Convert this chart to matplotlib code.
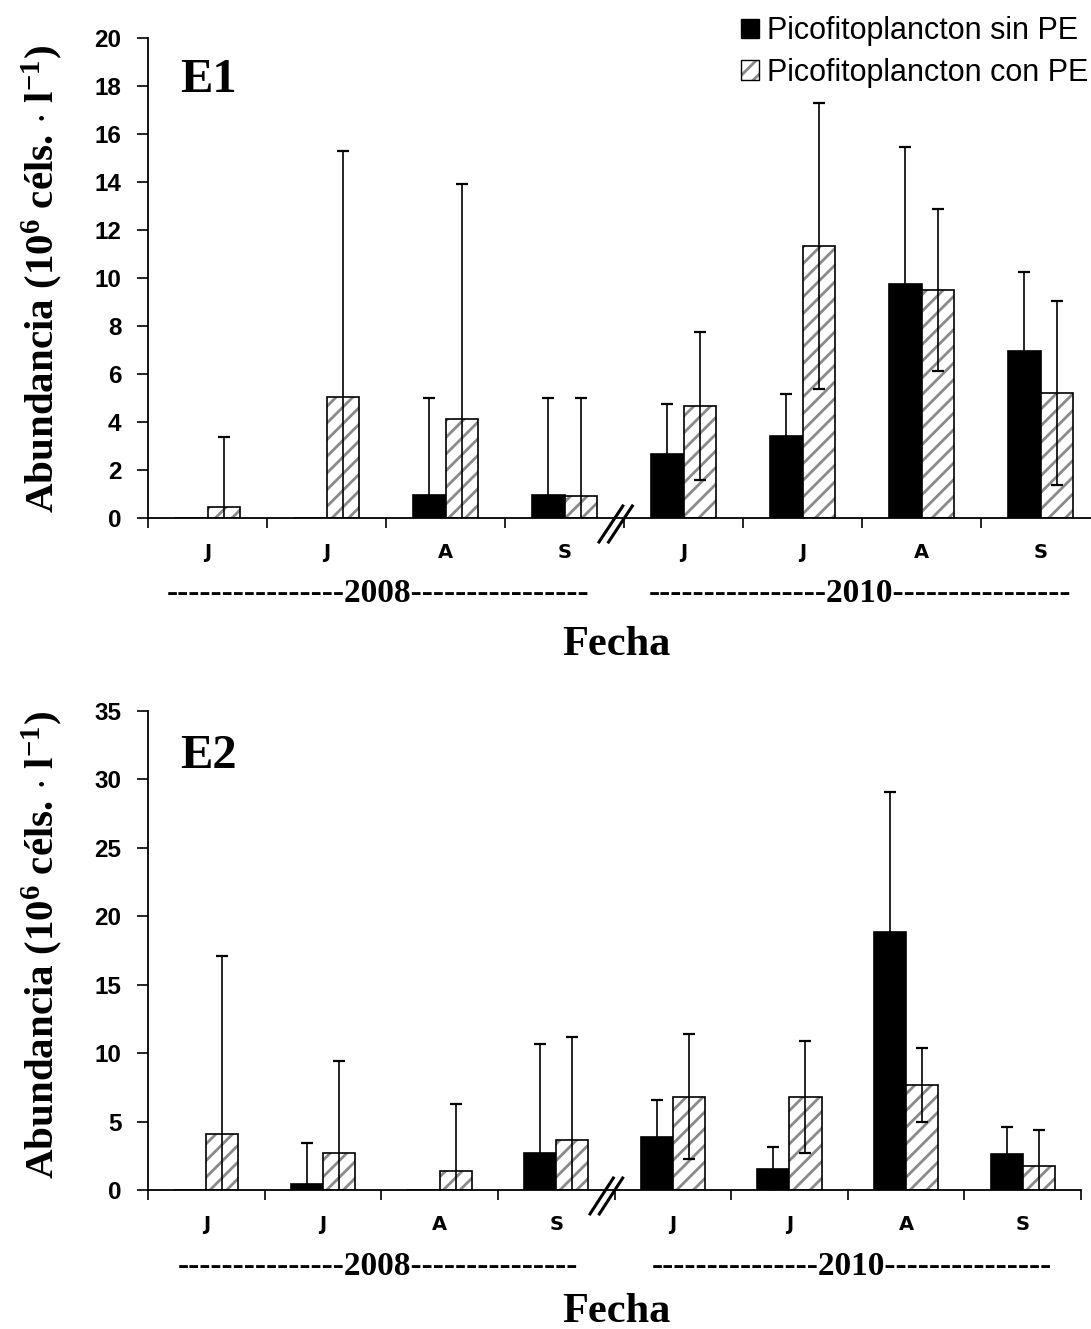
import numpy as np
import matplotlib
matplotlib.use('Agg')
import matplotlib.pyplot as plt
from matplotlib.patches import Patch
from matplotlib.legend_handler import HandlerTuple
from matplotlib.transforms import blended_transform_factory

# ---------------- data ----------------
months = ['J', 'J', 'A', 'S', 'J', 'J', 'A', 'S']
years = ['2008', '2010']
series_labels = ['Picofitoplancton sin PE', 'Picofitoplancton con PE']
panel_names = ['E1', 'E2']

e1_sin = [np.nan, np.nan, 0.95, 0.95, 2.65, 3.40, 9.75, 6.95]
e1_sin_err = [np.nan, np.nan, 4.05, 4.05, 2.10, 1.75, 5.70, 3.30]
e1_con = [0.47, 5.05, 4.12, 0.93, 4.67, 11.33, 9.50, 5.21]
e1_con_err = [2.90, 10.25, 9.80, 4.07, 3.10, 5.95, 3.37, 3.85]

e2_sin = [np.nan, 0.44, np.nan, 2.73, 3.85, 1.51, 18.85, 2.61]
e2_sin_err = [np.nan, 2.97, np.nan, 7.93, 2.72, 1.63, 10.22, 2.02]
e2_con = [4.09, 2.73, 1.36, 3.68, 6.82, 6.82, 7.65, 1.78]
e2_con_err = [13.0, 6.67, 4.90, 7.52, 4.55, 4.08, 2.70, 2.60]

e1_ymax, e1_ystep = 20, 2
e2_ymax, e2_ystep = 35, 5

# ---------------- style ----------------
plt.rcParams['mathtext.fontset'] = 'custom'
plt.rcParams['mathtext.rm'] = 'Liberation Serif:bold'
plt.rcParams['mathtext.bf'] = 'Liberation Serif:bold'
plt.rcParams['mathtext.it'] = 'Liberation Serif:bold'
plt.rcParams['hatch.linewidth'] = 2.0
plt.rcParams['hatch.color'] = '#8a8a8a'

W, H = 1091, 1329
fig = plt.figure(figsize=(W / 100, H / 100), dpi=100)

def fx(px):
    return px / W

def fy(py):
    return 1 - py / H

HATCH_GRAY = '#8a8a8a'
BW = 0.275

def draw_panel(rect, sin, sin_err, con, con_err, ymax, ystep, name,
               name_base, dash_n, year_y, year_x, fecha_y, ylab_cy):
    ax = fig.add_axes(rect)
    x = np.arange(len(months)) + 0.5
    sin = np.array(sin, dtype=float)
    con = np.array(con, dtype=float)
    # black bars
    ax.bar(x - BW / 2, np.nan_to_num(sin), BW, color='black', edgecolor='black',
           linewidth=1.2, zorder=2)
    # hatched bars (hatch layer + outline layer)
    ax.bar(x + BW / 2, con, BW, color='white', edgecolor=HATCH_GRAY, hatch='//',
           linewidth=0, zorder=2)
    ax.bar(x + BW / 2, con, BW, fill=False, edgecolor='black', linewidth=1.2,
           zorder=3)
    ax.errorbar(x - BW / 2, sin, yerr=np.array(sin_err, dtype=float), fmt='none',
                ecolor='black', elinewidth=1.2, capsize=4.5, capthick=1.6, zorder=4)
    ax.errorbar(x + BW / 2, con, yerr=np.array(con_err, dtype=float), fmt='none',
                ecolor='black', elinewidth=1.2, capsize=4.5, capthick=1.6, zorder=4)

    ax.set_xlim(0, len(months))
    ax.set_ylim(0, ymax)
    yt = np.arange(0, ymax + 0.1, ystep)
    ax.set_yticks(yt)
    ax.set_yticklabels([str(int(v)) for v in yt],
                       fontfamily='Liberation Sans', fontweight='bold', fontsize=17.5)
    ax.set_xticks(np.arange(0, len(months) + 1))
    ax.set_xticklabels([])
    ax.set_xticks(x, minor=True)
    ax.set_xticklabels(months, minor=True, fontfamily='DejaVu Sans',
                       fontweight='bold', fontsize=14)
    ax.tick_params(axis='y', direction='out', length=8, width=1.2, pad=11)
    ax.tick_params(axis='x', which='major', direction='out', length=7, width=1.2)
    ax.tick_params(axis='x', which='minor', length=0, pad=18)
    for s in ['top', 'right']:
        ax.spines[s].set_visible(False)
    for s in ['left', 'bottom']:
        ax.spines[s].set_linewidth(1.3)

    # axis break marks
    tr = blended_transform_factory(ax.transData, ax.transAxes)
    for off in (0.0, 0.08):
        ax.plot([3.79 + off, 3.99 + off], [-0.05, 0.025], color='black', lw=2.2,
                transform=tr, clip_on=False, zorder=5)

    # panel name
    fig.text(fx(180), fy(name_base), name, fontfamily='Liberation Serif',
             fontweight='bold', fontsize=35, ha='left', va='baseline')
    # year labels
    dashes = '-' * dash_n
    fig.text(fx(378), fy(year_y), dashes + years[0] + dashes,
             fontfamily='Liberation Serif', fontweight='bold', fontsize=24,
             ha='center', va='baseline')
    fig.text(fx(year_x), fy(year_y), dashes + years[1] + dashes,
             fontfamily='Liberation Serif', fontweight='bold', fontsize=24,
             ha='center', va='baseline')
    fig.text(fx(616), fy(fecha_y), 'Fecha', fontfamily='Liberation Serif',
             fontweight='bold', fontsize=30.5, ha='center', va='baseline')
    fig.text(fx(42), fy(ylab_cy),
             r'Abundancia (10$^{6}$ céls. $\cdot$ l$^{\mathrm{-1}}$)',
             fontfamily='Liberation Serif', fontweight='bold', fontsize=29.5,
             rotation=90, ha='center', va='center')
    return ax

ax1 = draw_panel([fx(148), fy(518), fx(1100) - fx(148), (518 - 38) / H],
                 e1_sin, e1_sin_err, e1_con, e1_con_err, e1_ymax, e1_ystep,
                 panel_names[0], 92, 16, 602, 860, 655, 279)
ax2 = draw_panel([fx(148), fy(1190), fx(1081) - fx(148), (1190 - 711) / H],
                 e2_sin, e2_sin_err, e2_con, e2_con_err, e2_ymax, e2_ystep,
                 panel_names[1], 768, 15, 1275, 852, 1322, 945)

# legend
h_black = Patch(facecolor='black', edgecolor='black', linewidth=1.0)
h_hatch = (Patch(facecolor='white', edgecolor=HATCH_GRAY, hatch='//', linewidth=0),
           Patch(facecolor='none', edgecolor='black', linewidth=1.0))
fig.legend([h_black, h_hatch], series_labels,
           handler_map={tuple: HandlerTuple(ndivide=1, pad=0)},
           loc='upper right', bbox_to_anchor=(fx(1088), fy(16)),
           frameon=False, borderpad=0, borderaxespad=0,
           handlelength=0.6, handleheight=0.6, handletextpad=0.25,
           labelspacing=0.38, prop={'family': 'Liberation Sans', 'size': 22})

fig.savefig('out.png', dpi=100, facecolor='white')
